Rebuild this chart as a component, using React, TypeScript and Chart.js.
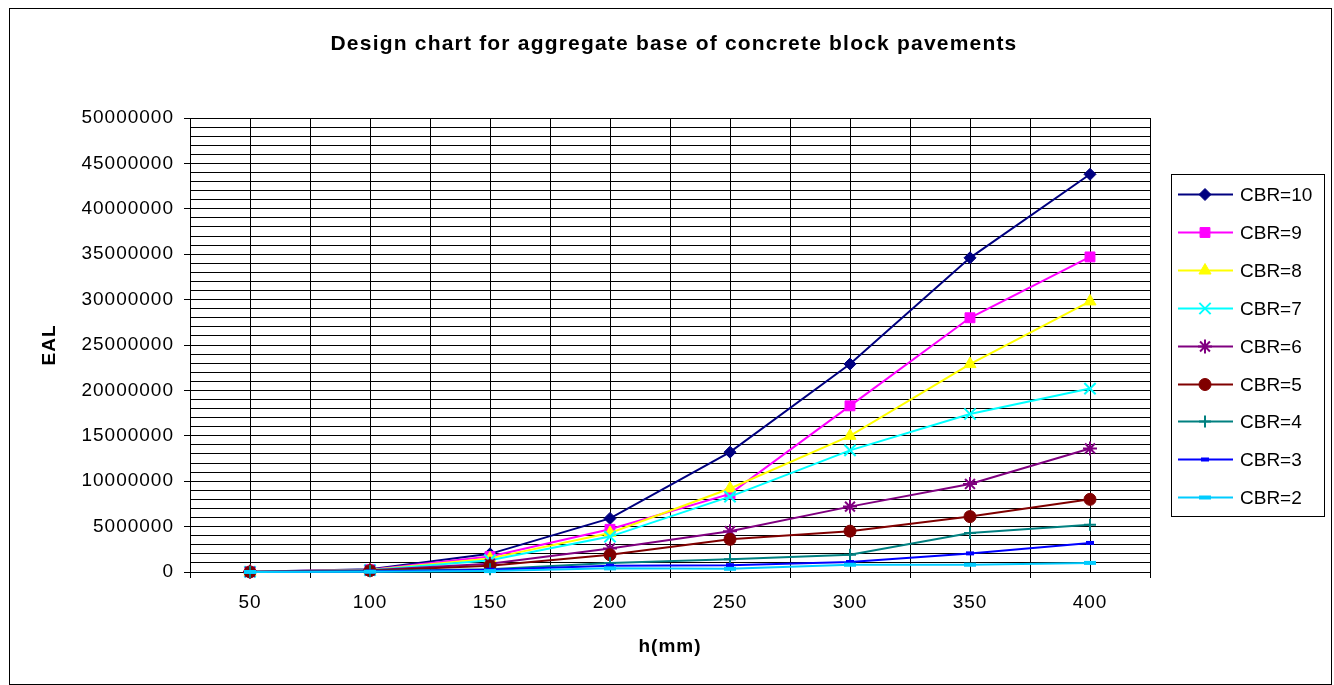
import React, { useEffect, useRef } from 'react';
import { Chart, registerables } from 'chart.js';
import * as helpers from 'chart.js/helpers';

Chart.register(...registerables);

const TITLE = 'Design chart for aggregate base of concrete block pavements';
const X_TITLE = 'h(mm)';
const Y_TITLE = 'EAL';

const H_MM = [50, 100, 150, 200, 250, 300, 350, 400];
const SERIES_NAMES = ['CBR=10', 'CBR=9', 'CBR=8', 'CBR=7', 'CBR=6', 'CBR=5', 'CBR=4', 'CBR=3', 'CBR=2'];

const CBR10 = [30000, 300000, 2000000, 5900000, 13200000, 22900000, 34600000, 43800000];
const CBR9 = [25000, 250000, 1700000, 4700000, 8600000, 18300000, 28000000, 34700000];
const CBR8 = [20000, 220000, 1500000, 4300000, 9200000, 15000000, 22900000, 29800000];
const CBR7 = [20000, 200000, 1300000, 3900000, 8300000, 13400000, 17400000, 20200000];
const CBR6 = [15000, 180000, 900000, 2600000, 4500000, 7200000, 9700000, 13600000];
const CBR5 = [12000, 150000, 700000, 1900000, 3600000, 4500000, 6100000, 8000000];
const CBR4 = [8000, 100000, 300000, 1000000, 1400000, 1900000, 4300000, 5200000];
const CBR3 = [5000, 60000, 250000, 700000, 750000, 1100000, 2050000, 3200000];
const CBR2 = [2000, 30000, 100000, 400000, 350000, 800000, 800000, 1000000];

const SERIES_VALUES = [CBR10, CBR9, CBR8, CBR7, CBR6, CBR5, CBR4, CBR3, CBR2];

const Y_MIN = 0;
const Y_MAX = 50000000;
const Y_MINOR_STEP = 1000000;
const Y_LABEL_STEP = 5000000;
const X_MIN = 25;
const X_MAX = 425;
const X_GRID_STEP = 25;
const X_LABEL_STEP = 50;

const STYLES = [
  { color: '#000080', point: 'rectRot', r: 6, pw: 1 },
  { color: '#FF00FF', point: 'rect', r: 7, pw: 1 },
  { color: '#FFFF00', point: 'triangle', r: 7, pw: 1 },
  { color: '#00FFFF', point: 'crossRot', r: 8, pw: 2 },
  { color: '#800080', point: 'star', r: 7, pw: 2 },
  { color: '#800000', point: 'circle', r: 6, pw: 1 },
  { color: '#008080', point: 'cross', r: 6, pw: 2 },
  { color: '#0000FF', point: 'line', r: 4, pw: 4 },
  { color: '#00CCFF', point: 'line', r: 6, pw: 4 },
];

const FONT = '"Liberation Sans", Arial, sans-serif';

const decorPlugin = {
  id: 'decor',
  beforeDraw(chart: any) {
    chart.ctx.letterSpacing = '1px';
  },
  afterDraw(chart: any) {
    const ctx = chart.ctx;
    ctx.letterSpacing = '0px';
    ctx.save();
    // outer border
    ctx.strokeStyle = '#000';
    ctx.lineWidth = 1;
    ctx.strokeRect(9.5, 8.5, 1322, 676);
    // title
    ctx.letterSpacing = '1.2px';
    ctx.fillStyle = '#000';
    ctx.font = `bold 21px ${FONT}`;
    ctx.textAlign = 'center';
    ctx.textBaseline = 'alphabetic';
    ctx.fillText(TITLE, 674, 50);
    ctx.letterSpacing = '0px';
    // legend
    ctx.strokeStyle = '#000';
    ctx.lineWidth = 1;
    ctx.strokeRect(1171.5, 174.5, 153, 342);
    chart.data.datasets.forEach((ds: any, i: number) => {
      const y = Math.round(194 + i * 37.9) + 0.5;
      ctx.strokeStyle = ds.borderColor;
      ctx.lineWidth = ds.borderWidth;
      ctx.beginPath();
      ctx.moveTo(1178, y);
      ctx.lineTo(1233, y);
      ctx.stroke();
      ctx.fillStyle = ds.pointBackgroundColor;
      ctx.strokeStyle = ds.pointBorderColor;
      ctx.lineWidth = ds.pointBorderWidth;
      helpers.drawPoint(
        ctx,
        { pointStyle: ds.pointStyle, radius: ds.pointRadius, rotation: 0, borderWidth: ds.pointBorderWidth },
        1205,
        y
      );
      ctx.fillStyle = '#000';
      ctx.font = `19px ${FONT}`;
      ctx.textAlign = 'left';
      ctx.textBaseline = 'middle';
      ctx.fillText(ds.label, 1240, y + 1);
    });
    ctx.restore();
  },
};

export default function App() {
  const ref = useRef<HTMLCanvasElement | null>(null);

  useEffect(() => {
    if (!ref.current) return;
    const datasets = SERIES_NAMES.map((name, i) => ({
      label: name,
      data: SERIES_VALUES[i].map((v, j) => ({ x: H_MM[j], y: v })),
      borderColor: STYLES[i].color,
      backgroundColor: STYLES[i].color,
      borderWidth: 2,
      pointStyle: STYLES[i].point,
      pointRadius: STYLES[i].r,
      pointBackgroundColor: STYLES[i].color,
      pointBorderColor: STYLES[i].color,
      pointBorderWidth: STYLES[i].pw,
      tension: 0,
      clip: false,
      order: SERIES_NAMES.length - i,
    }));

    const chart = new Chart(ref.current, {
      type: 'line',
      data: { datasets },
      plugins: [decorPlugin],
      options: {
        responsive: false,
        animation: false,
        devicePixelRatio: 1,
        layout: { padding: { left: 0, top: 118, right: 184, bottom: 0 } },
        font: { family: FONT },
        plugins: {
          legend: { display: false },
          title: { display: false },
          tooltip: { enabled: false },
        },
        scales: {
          x: {
            type: 'linear',
            position: 'bottom',
            min: X_MIN,
            max: X_MAX,
            afterFit: (s: any) => {
              s.height = 113;
            },
            ticks: {
              stepSize: X_GRID_STEP,
              autoSkip: false,
              maxRotation: 0,
              minRotation: 0,
              padding: 13,
              color: '#000',
              font: { family: FONT, size: 19 },
              callback: (v: any) => {
                const n = Math.round(Number(v));
                return n % X_LABEL_STEP === 0 && n >= H_MM[0] && n <= H_MM[H_MM.length - 1] ? String(n) : '';
              },
            },
            grid: {
              color: '#000',
              lineWidth: 1,
              tickLength: 6,
              tickColor: (c: any) =>
                c.tick && Math.round(c.tick.value / X_GRID_STEP) % 2 === 1 ? '#000' : 'rgba(0,0,0,0)',
            },
            border: { display: true, color: '#000', width: 1 },
            title: {
              display: true,
              text: X_TITLE,
              color: '#000',
              font: { family: FONT, size: 19, weight: 'bold' },
              padding: { top: 0, bottom: 27 },
            },
          },
          y: {
            type: 'linear',
            position: 'left',
            min: Y_MIN,
            max: Y_MAX,
            afterFit: (s: any) => {
              s.width = 190;
            },
            ticks: {
              stepSize: Y_MINOR_STEP,
              autoSkip: false,
              padding: 10,
              color: '#000',
              font: { family: FONT, size: 19 },
              callback: (v: any) => {
                const n = Math.round(Number(v));
                return n % Y_LABEL_STEP === 0 ? String(n) : '';
              },
            },
            grid: {
              color: '#000',
              lineWidth: 1,
              tickLength: 6,
              tickColor: (c: any) =>
                c.tick && Math.round(c.tick.value) % Y_LABEL_STEP === 0 ? '#000' : 'rgba(0,0,0,0)',
            },
            border: { display: true, color: '#000', width: 1 },
            title: {
              display: true,
              text: Y_TITLE,
              color: '#000',
              font: { family: FONT, size: 19, weight: 'bold' },
              padding: { top: 38, bottom: 0 },
            },
          },
        },
      } as any,
    });
    return () => chart.destroy();
  }, []);

  return (
    <div style={{ position: 'absolute', left: 0, top: 0, width: 1334, height: 685, background: '#fff' }}>
      <canvas ref={ref} width={1334} height={685} style={{ display: 'block', width: 1334, height: 685 }} />
    </div>
  );
}
